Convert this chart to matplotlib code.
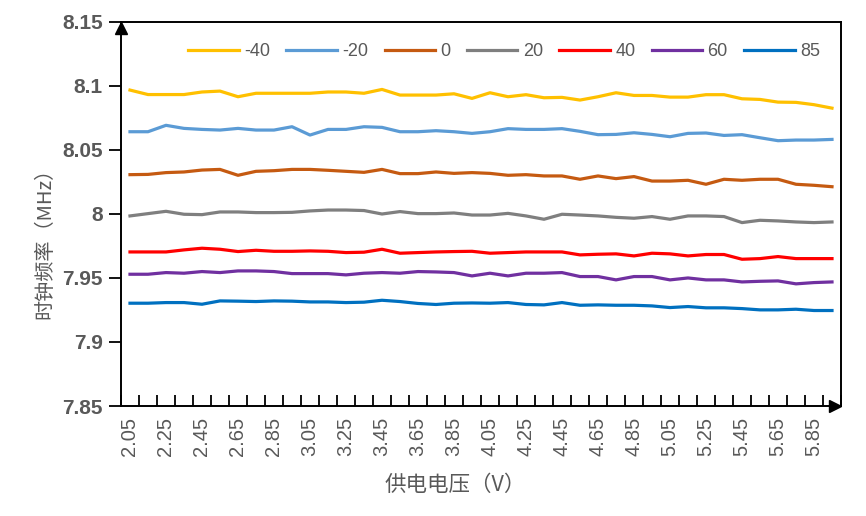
import matplotlib
matplotlib.use("Agg")
import matplotlib.pyplot as plt

voltages = ["2.05", "2.15", "2.25", "2.35", "2.45", "2.55", "2.65", "2.75", "2.85", "2.95",
            "3.05", "3.15", "3.25", "3.35", "3.45", "3.55", "3.65", "3.75", "3.85", "3.95",
            "4.05", "4.15", "4.25", "4.35", "4.45", "4.55", "4.65", "4.75", "4.85", "4.95",
            "5.05", "5.15", "5.25", "5.35", "5.45", "5.55", "5.65", "5.75", "5.85", "5.95"]

t_m40 = [8.0965, 8.093, 8.093, 8.093, 8.095, 8.0957, 8.0913, 8.094, 8.094, 8.094,
         8.094, 8.095, 8.095, 8.094, 8.097, 8.0926, 8.0926, 8.0926, 8.0936, 8.090,
         8.0944, 8.0913, 8.0929, 8.0905, 8.0908, 8.0887, 8.0913, 8.0944, 8.0923, 8.0923,
         8.091, 8.091, 8.0929, 8.0929, 8.0897, 8.0892, 8.0871, 8.0869, 8.0851, 8.0824]
t_m20 = [8.064, 8.064, 8.069, 8.0666, 8.0658, 8.0653, 8.0666, 8.0653, 8.0653, 8.0679,
         8.0614, 8.0658, 8.0658, 8.0679, 8.0674, 8.064, 8.064, 8.0648, 8.064, 8.0627,
         8.064, 8.0664, 8.0658, 8.0658, 8.0664, 8.0643, 8.0617, 8.0619, 8.0632, 8.0619,
         8.0601, 8.0627, 8.0630, 8.0611, 8.0617, 8.0593, 8.057, 8.0575, 8.0575, 8.058]
t_0 = [8.0305, 8.0307, 8.0321, 8.0326, 8.0341, 8.0346, 8.030, 8.0331, 8.0336, 8.0346,
       8.0346, 8.0339, 8.0331, 8.0323, 8.0346, 8.0313, 8.0313, 8.0326, 8.0315, 8.0321,
       8.0315, 8.030, 8.0305, 8.0295, 8.0295, 8.0269, 8.0295, 8.0274, 8.029, 8.0255,
       8.0255, 8.0261, 8.023, 8.0269, 8.0261, 8.0269, 8.0269, 8.023, 8.0222, 8.0211]
t_20 = [7.9983, 8.0001, 8.0019, 7.9996, 7.9993, 8.0014, 8.0014, 8.0009, 8.0009, 8.0011,
        8.0022, 8.0029, 8.0029, 8.0025, 7.9998, 8.0017, 8.0001, 8.0001, 8.0006, 7.999,
        7.999, 8.0003, 7.9983, 7.9957, 7.9996, 7.999, 7.9983, 7.9972, 7.9965, 7.9978,
        7.9957, 7.9983, 7.9983, 7.9978, 7.9931, 7.9949, 7.9944, 7.9936, 7.9931, 7.9936]
t_40 = [7.9702, 7.9702, 7.9702, 7.9718, 7.9731, 7.9723, 7.9705, 7.9715, 7.9707, 7.9707,
        7.971, 7.9707, 7.9697, 7.97, 7.9723, 7.9692, 7.9697, 7.9702, 7.9705, 7.9707,
        7.9692, 7.9697, 7.9702, 7.9702, 7.9702, 7.9679, 7.9684, 7.9687, 7.9671, 7.9692,
        7.9687, 7.9671, 7.9682, 7.9682, 7.9645, 7.965, 7.9666, 7.965, 7.965, 7.965]
t_60 = [7.9528, 7.9528, 7.9541, 7.9536, 7.9549, 7.9541, 7.9554, 7.9554, 7.9549, 7.9533,
        7.9533, 7.9533, 7.9523, 7.9536, 7.9541, 7.9536, 7.9549, 7.9546, 7.9541, 7.9515,
        7.9536, 7.9515, 7.9536, 7.9536, 7.9541, 7.951, 7.951, 7.9484, 7.951, 7.951,
        7.9484, 7.9499, 7.9484, 7.9484, 7.9468, 7.9473, 7.9476, 7.9453, 7.9463, 7.9468]
t_85 = [7.9302, 7.9302, 7.9307, 7.9307, 7.9294, 7.932, 7.9318, 7.9315, 7.932, 7.9318,
        7.9312, 7.9312, 7.9307, 7.931, 7.9325, 7.9315, 7.93, 7.9292, 7.9302, 7.9304,
        7.9302, 7.9307, 7.9292, 7.9289, 7.9307, 7.9286, 7.9289, 7.9286, 7.9286, 7.9281,
        7.9268, 7.9276, 7.9266, 7.9266, 7.926, 7.925, 7.925, 7.9255, 7.9245, 7.9245]

series_labels = ["-40", "-20", "0", "20", "40", "60", "85"]
series_values = [t_m40, t_m20, t_0, t_20, t_40, t_60, t_85]
series_colors = ["#FFC000", "#5B9BD5", "#C55A11", "#7F7F7F", "#FF0000", "#7030A0", "#0070C0"]

y_ticks = [7.85, 7.9, 7.95, 8.0, 8.05, 8.1, 8.15]
y_ticklabels = ["7.85", "7.9", "7.95", "8", "8.05", "8.1", "8.15"]

plt.rcParams['font.family'] = ['Liberation Sans', 'Noto Sans CJK SC', 'DejaVu Sans']
GRAY = "#595959"

fig = plt.figure(figsize=(8.66, 5.16), dpi=100)
W, H = 866, 516
L, R, T, B = 121, 841, 21.5, 406
ax = fig.add_axes([L / W, (H - B) / H, (R - L) / W, (B - T) / H])

x = list(range(len(voltages)))
for lab, vals, col in zip(series_labels, series_values, series_colors):
    ax.plot(x, vals, color=col, lw=2.3, label=lab, solid_joinstyle='round')

ax.set_xlim(-0.5, len(voltages) - 0.5)
ax.set_ylim(7.85, 8.15)

ax.set_yticks(y_ticks)
ax.set_yticklabels(y_ticklabels, fontsize=15, fontweight='bold', color=GRAY)
ax.tick_params(axis='y', direction='out', length=9, width=1.3, color='black', pad=4)

ax.set_xticks(x[::2])
ax.set_xticklabels(voltages[::2], rotation=90, fontsize=14.5, color=GRAY)
ax.set_xticks([i - 0.5 for i in range(len(voltages) + 1)], minor=True)
ax.tick_params(axis='x', which='major', length=0, pad=8)
ax.tick_params(axis='x', which='minor', direction='in', length=8, width=1.3, color='black')

for s in ax.spines.values():
    s.set_linewidth(1.4)
    s.set_color('black')

# arrows (tips at the axis ends, bodies inside the plot)
ax.plot([0], [1 - 6 / (B - T)], marker='^', markersize=9, color='black',
        transform=ax.transAxes, clip_on=False, zorder=5)
ax.plot([1 - 6 / (R - L)], [0], marker='>', markersize=9, color='black',
        transform=ax.transAxes, clip_on=False, zorder=5)

leg = ax.legend(loc='center', bbox_to_anchor=(0.532, 0.922), ncol=7, frameon=False,
                fontsize=13, handlelength=2.8, handletextpad=0.3, columnspacing=0.9)
for t in leg.get_texts():
    t.set_color(GRAY)

fig.text(45 / W, 1 - 238 / H, "时钟频率（MHz）", rotation=90, ha='center', va='center',
         fontsize=14.5, color=GRAY, family=['Noto Sans CJK SC', 'DejaVu Sans'])
fig.text(455 / W, 1 - 485 / H, "供电电压（V）", ha='center', va='center',
         fontsize=15.5, color=GRAY, family=['Noto Sans CJK SC', 'DejaVu Sans'])

fig.savefig("out.png", dpi=100)
